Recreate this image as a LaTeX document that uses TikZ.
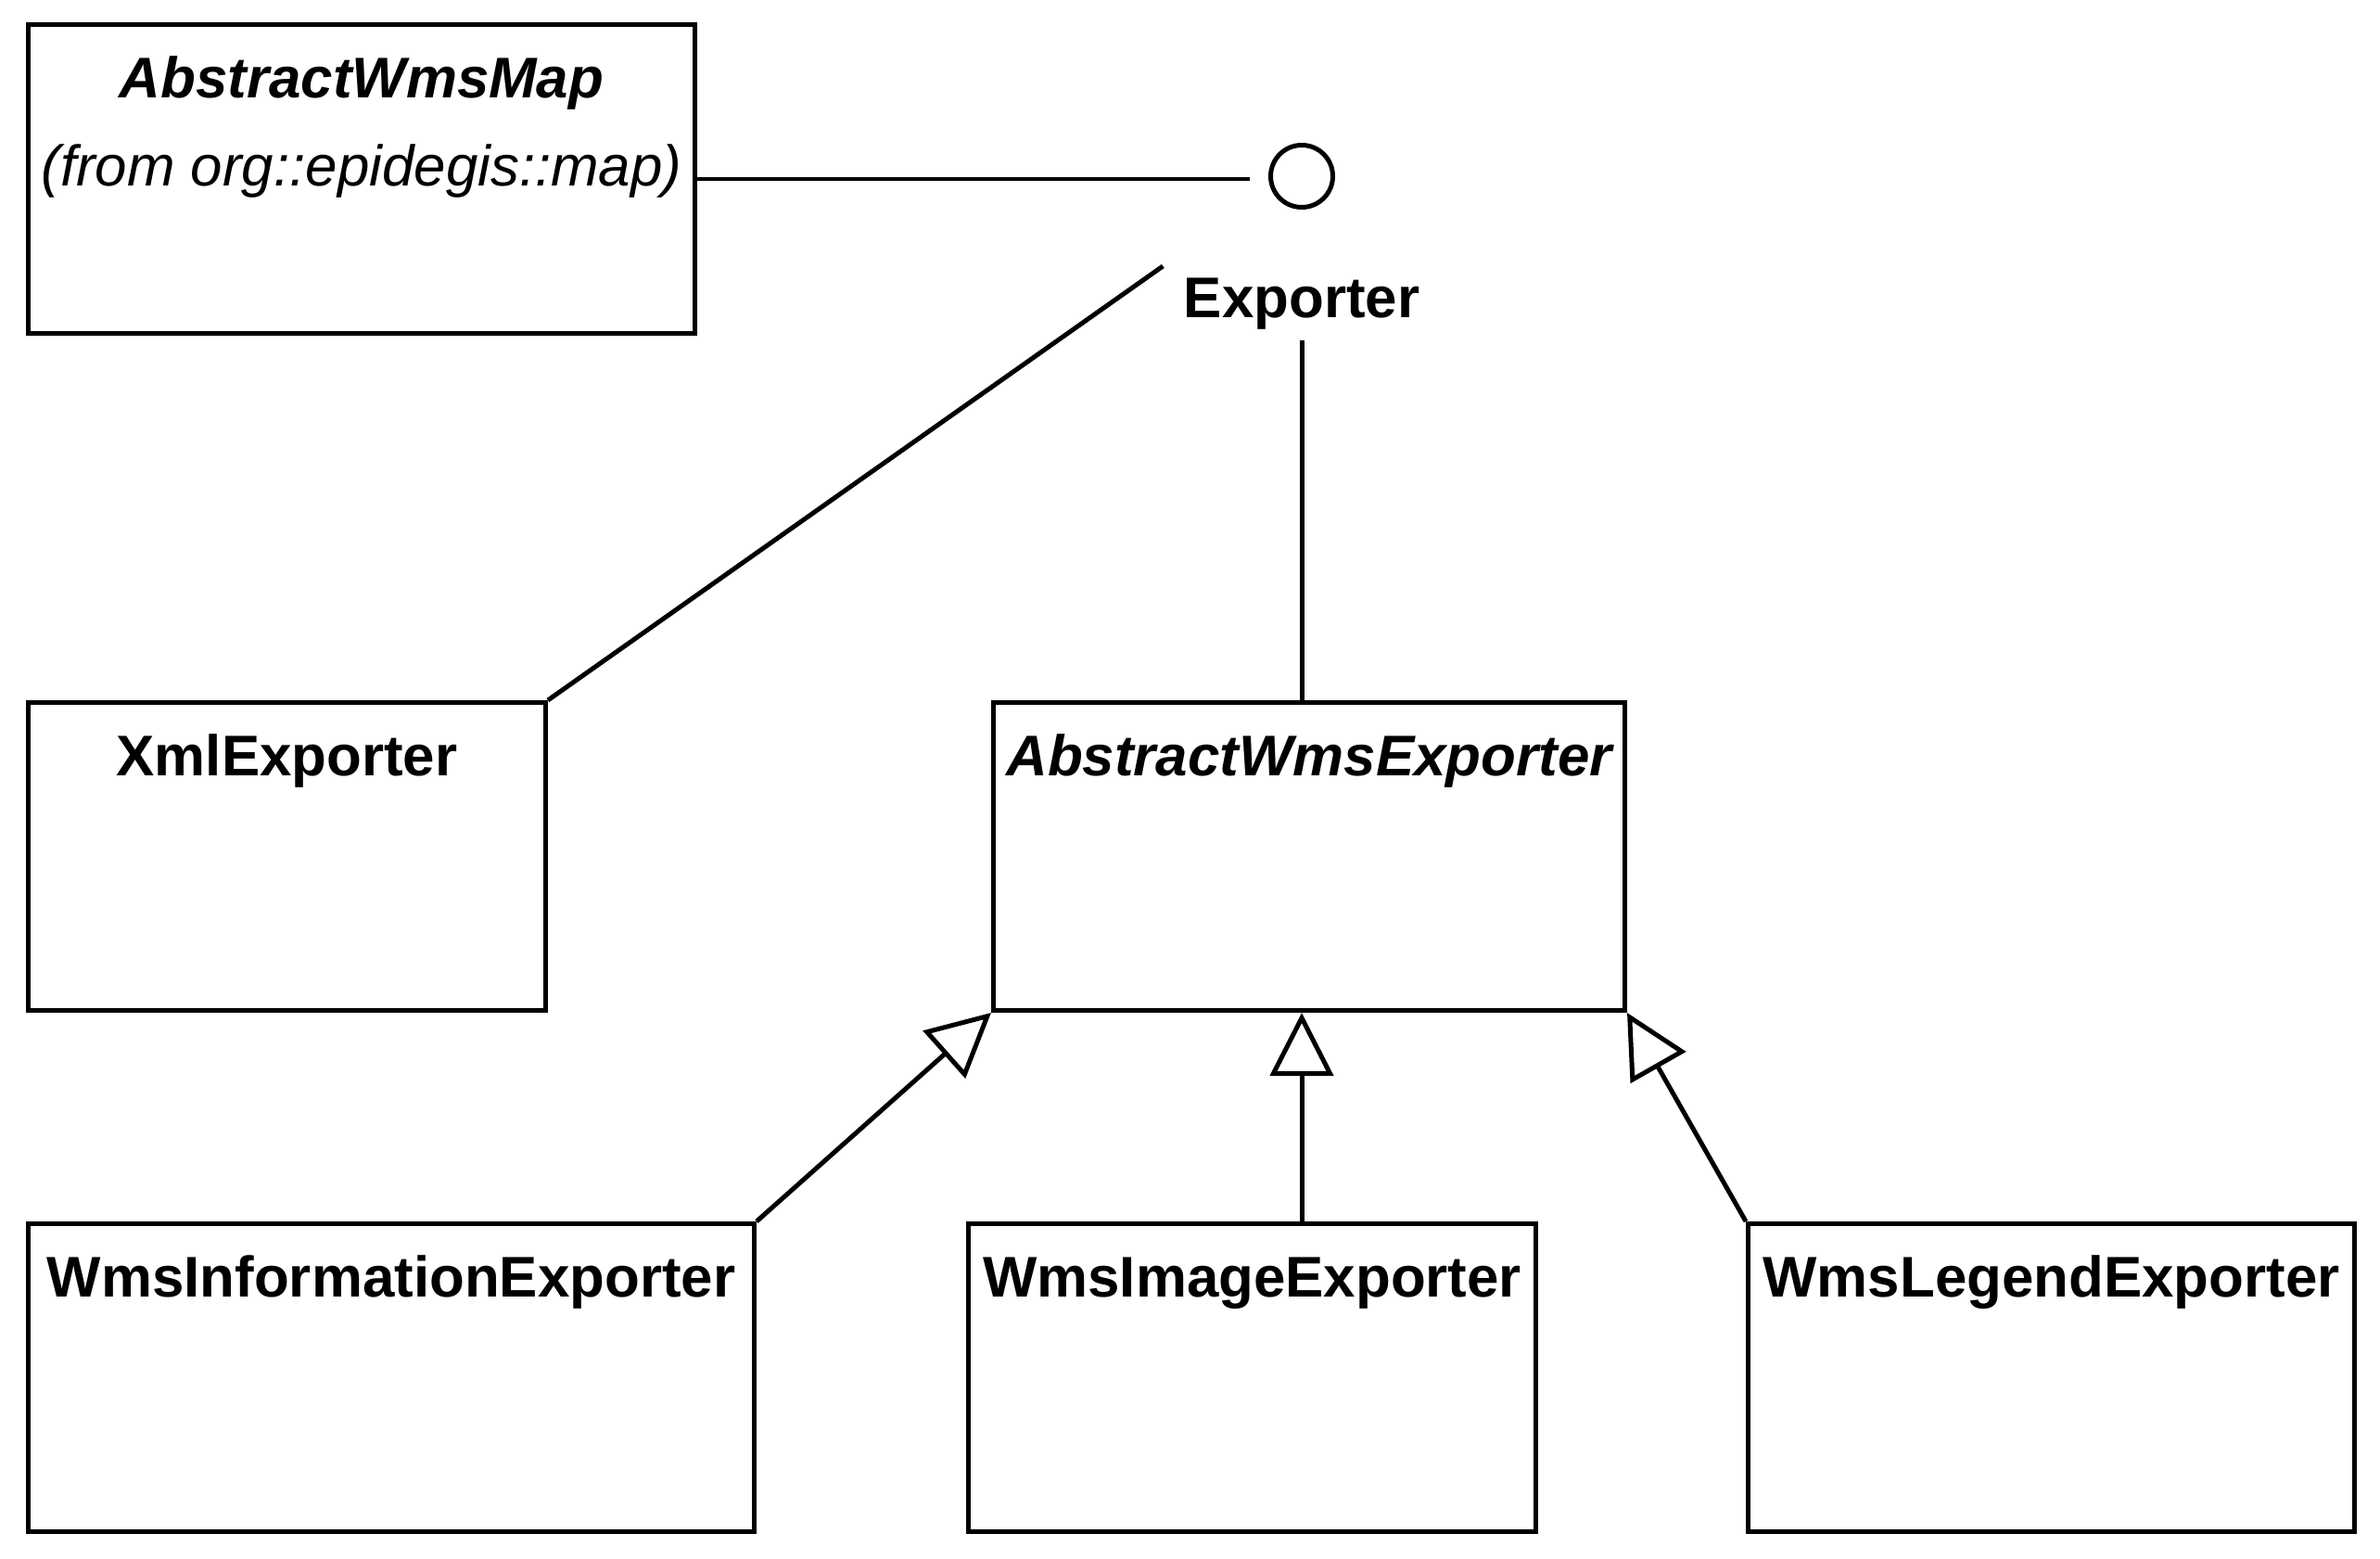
\documentclass[tikz,border=0pt]{standalone}
\usepackage{fontspec}
\setmainfont{Liberation Sans}
\usetikzlibrary{arrows.meta,positioning}

\begin{document}
\begin{tikzpicture}[>={Triangle[open,length=0.68cm,width=0.68cm]}, line width=1.42pt,
	font=\fontsize{17.6}{21}\selectfont,
	cls/.style={draw, inner sep=0pt, anchor=north west, minimum height=3.32cm,
		label={[anchor=base, yshift=-0.81cm, inner sep=0pt]north:#1}}]
	\useasboundingbox (0,0) rectangle (25.67,-16.80);

	% Classes
	\node [cls={\bfseries\itshape AbstractWmsMap}, minimum width=7.19cm, minimum height=3.33cm,
		label={[anchor=base, yshift=-1.76cm, inner sep=0pt]north:\itshape (from org::epidegis::map)}] (map) at (0.28,-0.24) {};
	\node [cls={\bfseries XmlExporter}, minimum width=5.58cm] 				(xml) 	at (0.28,-7.55) {};
	\node [cls={\bfseries\itshape AbstractWmsExporter}, minimum width=6.81cm] 	(aexp) 	at (10.69,-7.55) {};
	\node [cls={\bfseries WmsInformationExporter}, minimum width=7.83cm] 	(info) 	at (0.28,-13.17) {};
	\node [cls={\bfseries WmsImageExporter}, minimum width=6.12cm] 			(image) at (10.42,-13.17) {};
	\node [cls={\bfseries WmsLegendExporter}, minimum width=6.54cm] 		(legend) at (18.83,-13.17) {};

	% Interface Exporter
	\node [draw, circle, minimum size=0.67cm, inner sep=0pt] (iface) at (14.04,-1.9) {};
	\node [font=\fontsize{17.6}{21}\selectfont\bfseries, inner xsep=0.2cm, inner ysep=0.1cm, anchor=base] (exp) at (14.04,-3.42) {Exporter};

	% Paths
	\path [draw]	(map.east) edge [shorten >=0.2cm] (map.east -| iface.west)
				(exp.north west) edge (xml.north east)
				(exp.south) edge (exp.south |- aexp.north);

	% Generalizations
	\draw [->] (info.north east) -- (aexp.south west);
	\draw [->] (image.north -| exp.south) -- (exp.south |- aexp.south);
	\draw [->] (legend.north west) -- (aexp.south east);
\end{tikzpicture}
\end{document}
